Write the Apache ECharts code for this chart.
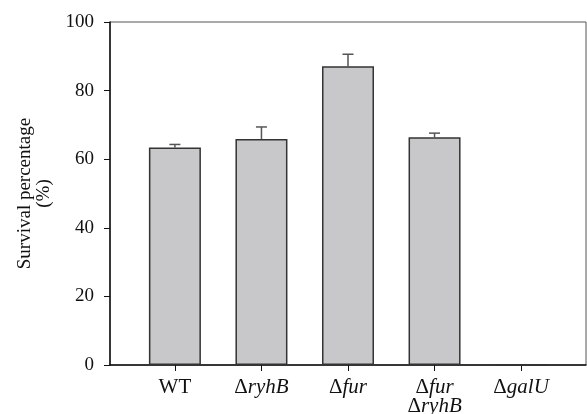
<!DOCTYPE html>
<html>
<head>
<meta charset="utf-8">
<script src="https://cdn.jsdelivr.net/npm/echarts@6/dist/echarts.min.js"></script>
<style>html,body{margin:0;padding:0;background:#fff}#c{width:587px;height:414px}</style>
</head>
<body>
<div id="c"></div>
<script>
var categories = ['WT', 'ΔryhB', 'Δfur', 'Δfur\nΔryhB', 'ΔgalU'];
var survival = [63.4, 65.9, 87.1, 66.4, 0];
var errors = [0.9, 3.5, 3.5, 1.2, 0];
var yTicks = [0, 20, 40, 60, 80, 100];

var chart = echarts.init(document.getElementById('c'));
var font = 'Liberation Serif';

function fmtLabel(v) {
  var idx = Math.round(v);
  var name = categories[idx];
  if (name === undefined) return '';
  return name.split('\n').map(function (line) {
    var m = line.match(/^Δ(.*)$/);
    if (m) return '{n|Δ}{i|' + m[1] + '}';
    return '{n|' + line + '}';
  }).join('\n');
}

var idxs = categories.map(function (_, i) { return i; });

chart.setOption({
  animation: false,
  backgroundColor: '#fff',
  grid: {
    left: 110, right: 1, top: 22, bottom: 49,
    outerBoundsMode: 'none',
    show: true, borderColor: '#555', borderWidth: 1, backgroundColor: 'transparent'
  },
  xAxis: {
    type: 'value', min: -0.75, max: 4.75,
    splitLine: { show: false },
    axisLine: { show: true, onZero: false, lineStyle: { color: '#111', width: 1.5 } },
    axisTick: { show: true, customValues: idxs, length: 6, lineStyle: { color: '#111', width: 1 } },
    axisLabel: {
      customValues: idxs,
      formatter: fmtLabel,
      margin: 13,
      lineHeight: 19,
      rich: {
        n: { fontFamily: font, fontSize: 21, color: '#111', lineHeight: 19 },
        i: { fontFamily: font, fontSize: 21, fontStyle: 'italic', color: '#111', lineHeight: 19 }
      }
    }
  },
  yAxis: {
    type: 'value', min: 0, max: 100, interval: 20,
    name: 'Survival percentage\n(%)',
    nameLocation: 'middle', nameGap: 56, nameRotate: 90,
    nameTextStyle: { fontFamily: font, fontSize: 19, color: '#111', lineHeight: 19 },
    splitLine: { show: false },
    axisLine: { show: true, onZero: false, lineStyle: { color: '#111', width: 1.5 } },
    axisTick: { show: true, length: 6, lineStyle: { color: '#111', width: 1 } },
    axisLabel: { fontFamily: font, fontSize: 19, color: '#111', margin: 16,
      formatter: function (v) { return yTicks.indexOf(v) >= 0 ? String(v) : ''; } }
  },
  series: [
    {
      type: 'bar',
      barWidth: 52,
      data: survival.map(function (v, i) { return [i, v]; }),
      itemStyle: { color: '#c8c8ca', borderColor: '#333', borderWidth: 1.5 },
      z: 2
    },
    {
      type: 'custom',
      z: 1,
      data: survival.map(function (v, i) { return [i, v, v + errors[i]]; }),
      renderItem: function (params, api) {
        if (api.value(2) - api.value(1) <= 0) return null;
        var base = api.coord([api.value(0), api.value(1)]);
        var top = api.coord([api.value(0), api.value(2)]);
        var hw = 5.5;
        var st = { stroke: '#555', lineWidth: 1.5 };
        return {
          type: 'group',
          children: [
            { type: 'line', shape: { x1: base[0], y1: base[1], x2: top[0], y2: top[1] }, style: st },
            { type: 'line', shape: { x1: top[0] - hw, y1: top[1], x2: top[0] + hw, y2: top[1] }, style: st }
          ]
        };
      }
    }
  ]
});
</script>
</body>
</html>
